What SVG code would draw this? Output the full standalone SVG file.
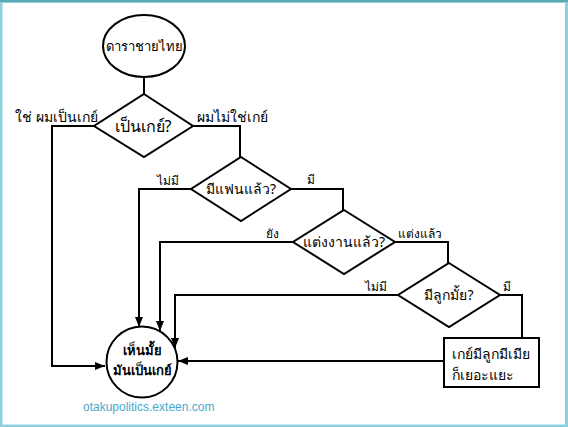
<svg xmlns="http://www.w3.org/2000/svg" width="568" height="427" viewBox="0 0 568 427">
<style>
.shape{fill:#fff;stroke:#000;stroke-width:2}
.conn{fill:none;stroke:#000;stroke-width:2}
.t{font-family:"Noto Sans","DejaVu Sans",sans-serif;fill:#000}
.lbl{font-size:14px}
.in{font-size:14px;text-anchor:middle}
.small{font-size:12px}
</style>
<defs>
<marker id="arr" viewBox="0 0 10 8" refX="10" refY="4" markerWidth="10" markerHeight="8" markerUnits="userSpaceOnUse" orient="auto">
<path d="M0,0 L10,4 L0,8 Z" fill="#000"/>
</marker>
</defs>
<rect x="0" y="0" width="568" height="427" fill="#fff"/>
<rect x="1" y="1.5" width="565.5" height="424.5" fill="none" stroke="#8fd0e0" stroke-width="3"/>
<line x1="0" y1="1" x2="568" y2="1" stroke="#5aa9b5" stroke-width="2"/>
<g id="connectors">
<line class="conn" x1="144" y1="77" x2="144" y2="94"/>
<polyline class="conn" points="94,126 52,126 52,366 105,366" marker-end="url(#arr)"/>
<polyline class="conn" points="193,126 240,126 240,157"/>
<polyline class="conn" points="191,189 139,189 139,327" marker-end="url(#arr)"/>
<polyline class="conn" points="291,189 343,189 343,210"/>
<polyline class="conn" points="293,242 160,242 160,331" marker-end="url(#arr)"/>
<polyline class="conn" points="395,242 448,242 448,263"/>
<polyline class="conn" points="398,295 175,295 175,348" marker-end="url(#arr)"/>
<polyline class="conn" points="500,295 522,295 522,338"/>
<line class="conn" x1="444" y1="361" x2="178" y2="361" marker-end="url(#arr)"/>
</g>
<g id="start">
<ellipse class="shape" cx="144" cy="46" rx="41" ry="31"/>
<text class="t in" x="144" y="51" style="font-size:13px">ดาราชายไทย</text>
</g>
<g id="d1">
<polygon class="shape" points="144,94 193,126 144,157 94,126"/>
<text class="t in" x="143" y="132" style="font-size:16px">เป็นเกย์?</text>
</g>
<g id="d2">
<polygon class="shape" points="241,157 291,189 241,221 191,189"/>
<text class="t in" x="241" y="194">มีแฟนแล้ว?</text>
</g>
<g id="d3">
<polygon class="shape" points="344,210 395,242 344,274 293,242"/>
<text class="t in" x="344" y="247">แต่งงานแล้ว?</text>
</g>
<g id="d4">
<polygon class="shape" points="449,263 500,295 449,327 398,295"/>
<text class="t in" x="449" y="300">มีลูกมั้ย?</text>
</g>
<g id="box">
<rect class="shape" x="444" y="338" width="95" height="49"/>
<text class="t lbl" x="452" y="359">เกย์มีลูกมีเมีย</text>
<text class="t lbl" x="452" y="380">ก็เยอะแยะ</text>
</g>
<g id="end">
<circle class="shape" cx="142" cy="362" r="35.5"/>
<text class="t in" x="142" y="355" style="font-size:13px;font-weight:600">เห็นมั้ย</text>
<text class="t in" x="142" y="375" style="font-size:13px;font-weight:600">มันเป็นเกย์</text>
</g>
<g id="labels">
<text class="t lbl" x="15" y="122">ใช่ ผมเป็นเกย์</text>
<text class="t lbl" x="197" y="122">ผมไม่ใช่เกย์</text>
<text class="t small" x="157" y="185">ไม่มี</text>
<text class="t small" x="307" y="184">มี</text>
<text class="t small" x="266" y="238">ยัง</text>
<text class="t small" x="398" y="238">แต่งแล้ว</text>
<text class="t small" x="365" y="291">ไม่มี</text>
<text class="t small" x="503" y="291">มี</text>
</g>
<text x="83" y="411" style="font-family:'Liberation Sans',Arial,sans-serif;font-size:12px;fill:#4aa8d0">otakupolitics.exteen.com</text>
</svg>
